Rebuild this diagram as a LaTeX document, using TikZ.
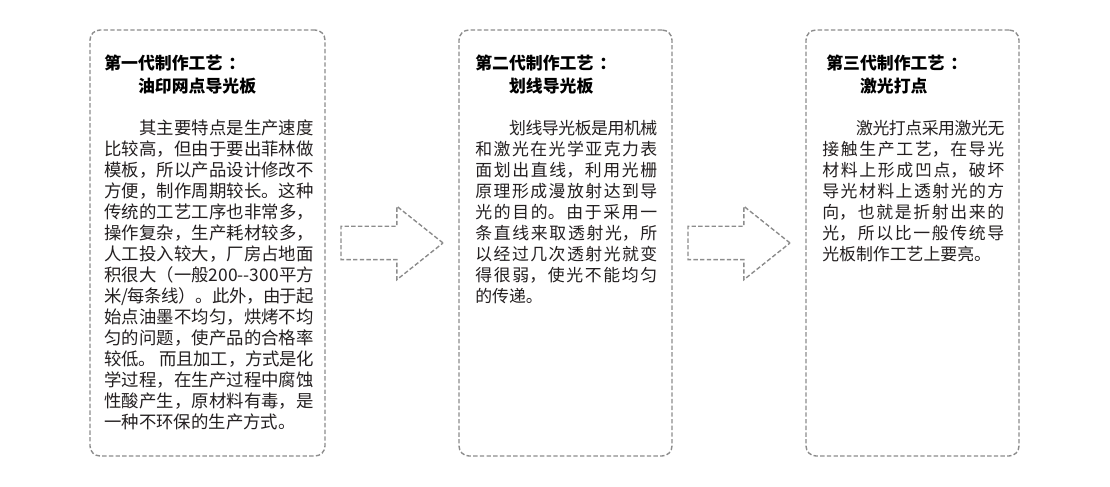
\documentclass[tikz,border=0pt]{standalone}
\usepackage{fontspec}
\newfontfamily\cjk{Noto Sans CJK SC}
\XeTeXlinebreaklocale "zh"
\XeTeXlinebreakskip=0pt plus 2pt minus 0.6pt
\usepackage{tikz}
\usetikzlibrary{shapes.arrows, positioning, calc}
\definecolor{framegray}{RGB}{140,140,140}
\definecolor{inkgray}{RGB}{35,31,32}

\begin{document}
\begin{tikzpicture}[
		node distance=2.68cm,
		card/.style={rectangle, draw=framegray, line width=0.8pt, dash pattern=on 2.5pt off 1.3pt,
			rounded corners=0.2cm, minimum width=4.26cm, minimum height=8.52cm, inner sep=0pt, outer sep=0pt},
		heading/.style={anchor=north west, inner sep=0pt, align=left, text=black,
			font=\cjk\bfseries\fontsize{9.6}{13}\selectfont},
		body/.style={anchor=north west, inner sep=0pt, align=justify, text=inkgray,
			text width=3.64cm, font=\cjk\fontsize{9.6}{11.95}\selectfont},
		flow/.style={single arrow, draw=framegray, line width=0.8pt, dash pattern=on 2.5pt off 1.3pt,
			minimum height=2.04cm, inner sep=0.32cm, outer sep=0pt, anchor=tail,
			single arrow head extend=0.4cm, single arrow tip angle=77}
		]
		\useasboundingbox (0,0) rectangle (22.2,9.74);

		% the three generations
		\node[card, minimum width=4.70cm] (gen1) at (4.15,4.88) {};
		\node[card, right=of gen1] (gen2) {};
		\node[card, right=of gen2] (gen3) {};

		% arrows between them
		\node[flow] (arr1) at ([xshift=0.32cm]gen1.east) {};
		\node[flow] (arr2) at ([xshift=0.32cm]gen2.east) {};

		\node[heading] (head1) at ([shift={(0.28,-0.49)}]gen1.north west) {第一代制作工艺\hspace{0.35em}：\\\hspace{2em}油印网点导光板};
		\node[heading] (head2) at ([shift={(0.32,-0.49)}]gen2.north west) {第二代制作工艺\hspace{0.35em}：\\\hspace{2em}划线导光板};
		\node[heading] (head3) at ([shift={(0.40,-0.49)}]gen3.north west) {第三代制作工艺\hspace{0.35em}：\\\hspace{2em}激光打点};

		\node[body, text width=4.19cm, font=\cjk\fontsize{9.9}{11.95}\selectfont] (text1)
			at ([shift={(0.28,-1.79)}]gen1.north west) {%
			\noindent\hspace*{2em}其主要特点是生产速度\break
			比较高，但由于要出菲林做\break
			模板，所以产品设计修改不\break
			方便，制作周期较长。这种\break
			传统的工艺工序也非常多，\break
			操作复杂，生产耗材较多，\break
			人工投入较大，厂房占地面\break
			积很大（一般200-{}-300平方\break
			米/每条线）。此外，由于起\break
			始点油墨不均匀，烘烤不均\break
			匀的问题，使产品的合格率\break
			较低。 而且加工，方式是化\break
			学过程，在生产过程中腐蚀\break
			性酸产生，原材料有毒，是\break
			一种不环保的生产方式。};
		\node[body] (text2) at ([shift={(0.32,-1.79)}]gen2.north west) {%
			\noindent\hspace*{2em}划线导光板是用机械\break
			和激光在光学亚克力表\break
			面划出直线，利用光栅\break
			原理形成漫放射达到导\break
			光的目的。由于采用一\break
			条直线来取透射光，所\break
			以经过几次透射光就变\break
			得很弱，使光不能均匀\break
			的传递。};
		\node[body] (text3) at ([shift={(0.32,-1.79)}]gen3.north west) {%
			\noindent\hspace*{2em}激光打点采用激光无\break
			接触生产工艺，在导光\break
			材料上形成凹点，破坏\break
			导光材料上透射光的方\break
			向，也就是折射出来的\break
			光，所以比一般传统导\break
			光板制作工艺上要亮。};
	\end{tikzpicture}
\end{document}
